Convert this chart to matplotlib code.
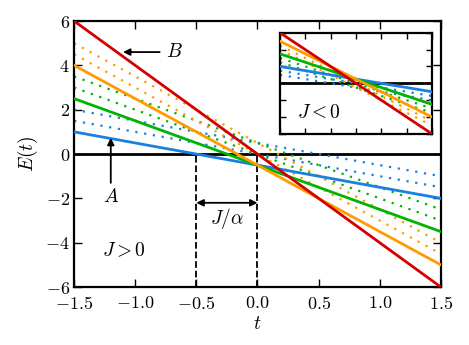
import matplotlib
matplotlib.use('Agg')
import matplotlib.pyplot as plt

plt.rcParams['font.family'] = 'serif'
plt.rcParams['font.serif'] = ['cmr10']
plt.rcParams['mathtext.fontset'] = 'cm'
plt.rcParams['axes.formatter.use_mathtext'] = True
plt.rcParams['font.size'] = 13

# values at t = -1.5 and t = 1.5
t_ends = [-1.5, 1.5]
colors = ['#1a80e0', '#00b400', '#ff9a00']

# main panel (J > 0)
main_solid_start = [1.0, 2.5, 4.0]
main_solid_end = [-2.0, -3.5, -5.0]
main_dot1_start = [2.0, 3.5, 5.0]
main_dot1_end = [-1.0, -2.5, -4.0]
main_dot2_start = [1.5, 3.0, 4.5]
main_dot2_end = [-1.5, -3.0, -4.5]

# inset (J < 0)
ins_solid_start = [2.0, 3.5, 5.0]
ins_solid_end = [-1.0, -2.5, -4.0]
ins_dot1_start = [1.5, 3.0, 4.5]
ins_dot1_end = [-1.5, -3.0, -4.5]
ins_dot2_start = [1.0, 2.5, 4.0]
ins_dot2_end = [-2.0, -3.5, -5.0]

red_line = [6.0, -6.0]
red_color = '#d40000'

dots = (0, (1, 3))


def draw_lines(ax, solid_s, solid_e, d1_s, d1_e, d2_s, d2_e):
    ax.axhline(0, color='black', lw=2, zorder=1)
    for i, c in enumerate(colors):
        ax.plot(t_ends, [d1_s[i], d1_e[i]], color=c, lw=1.6, ls=dots, zorder=2)
        ax.plot(t_ends, [d2_s[i], d2_e[i]], color=c, lw=1.6, ls=dots, zorder=2)
    for i, c in enumerate(colors):
        ax.plot(t_ends, [solid_s[i], solid_e[i]], color=c, lw=2, zorder=3)
    ax.plot(t_ends, red_line, color=red_color, lw=2, zorder=4)
    ax.set_xlim(-1.5, 1.5)
    ax.set_ylim(-6, 6)
    ax.set_xticks([-1.5, -1.0, -0.5, 0.0, 0.5, 1.0, 1.5])
    ax.set_yticks([-6, -4, -2, 0, 2, 4, 6])
    ax.tick_params(direction='in', top=True, right=True, length=6, width=1, pad=3)
    for s in ax.spines.values():
        s.set_linewidth(1.6)


fig = plt.figure(figsize=(4.69, 3.45), dpi=100)
ax = fig.add_axes([0.158, 0.168, 0.782, 0.771])
draw_lines(ax, main_solid_start, main_solid_end, main_dot1_start, main_dot1_end,
           main_dot2_start, main_dot2_end)
ax.xaxis.set_major_formatter(matplotlib.ticker.FormatStrFormatter('$%.1f$'))
ax.yaxis.set_major_formatter(matplotlib.ticker.FormatStrFormatter('$%d$'))
ax.tick_params(axis='x', pad=6)
ax.set_xlabel('$t$', fontsize=14, labelpad=2)
ax.set_ylabel('$E(t)$', fontsize=14, labelpad=4)

# dashed markers and annotations
ax.plot([-0.5, -0.5], [-6, 0], color='black', ls='--', lw=1.3, zorder=1)
ax.plot([0.0, 0.0], [-6, 0], color='black', ls='--', lw=1.3, zorder=1)
ax.annotate('', xy=(-0.5, -2.2), xytext=(0.0, -2.2),
            arrowprops=dict(arrowstyle='<|-|>', color='black', lw=1.3,
                            mutation_scale=10, shrinkA=0, shrinkB=0))
ax.text(-0.25, -2.9, r'$J/\alpha$', ha='center', va='center', fontsize=14)

ax.annotate('', xy=(-1.1, 4.6), xytext=(-0.8, 4.6),
            arrowprops=dict(arrowstyle='-|>', color='black', lw=1.3,
                            mutation_scale=10, shrinkA=0, shrinkB=0))
ax.text(-0.68, 4.6, '$B$', ha='center', va='center', fontsize=14)

ax.annotate('', xy=(-1.2, 0.73), xytext=(-1.2, -1.3),
            arrowprops=dict(arrowstyle='-|>', color='black', lw=1.3,
                            mutation_scale=10, shrinkA=0, shrinkB=0))
ax.text(-1.2, -1.95, '$A$', ha='center', va='center', fontsize=14)

ax.text(-1.09, -4.35, '$J>0$', ha='center', va='center', fontsize=14)

# inset
axi = fig.add_axes([0.597, 0.612, 0.324, 0.293])
draw_lines(axi, ins_solid_start, ins_solid_end, ins_dot1_start, ins_dot1_end,
           ins_dot2_start, ins_dot2_end)
axi.tick_params(labelbottom=False, labelleft=False, length=4)
axi.text(-0.74, -3.5, '$J<0$', ha='center', va='center', fontsize=14)

fig.savefig('out.png', dpi=100)
